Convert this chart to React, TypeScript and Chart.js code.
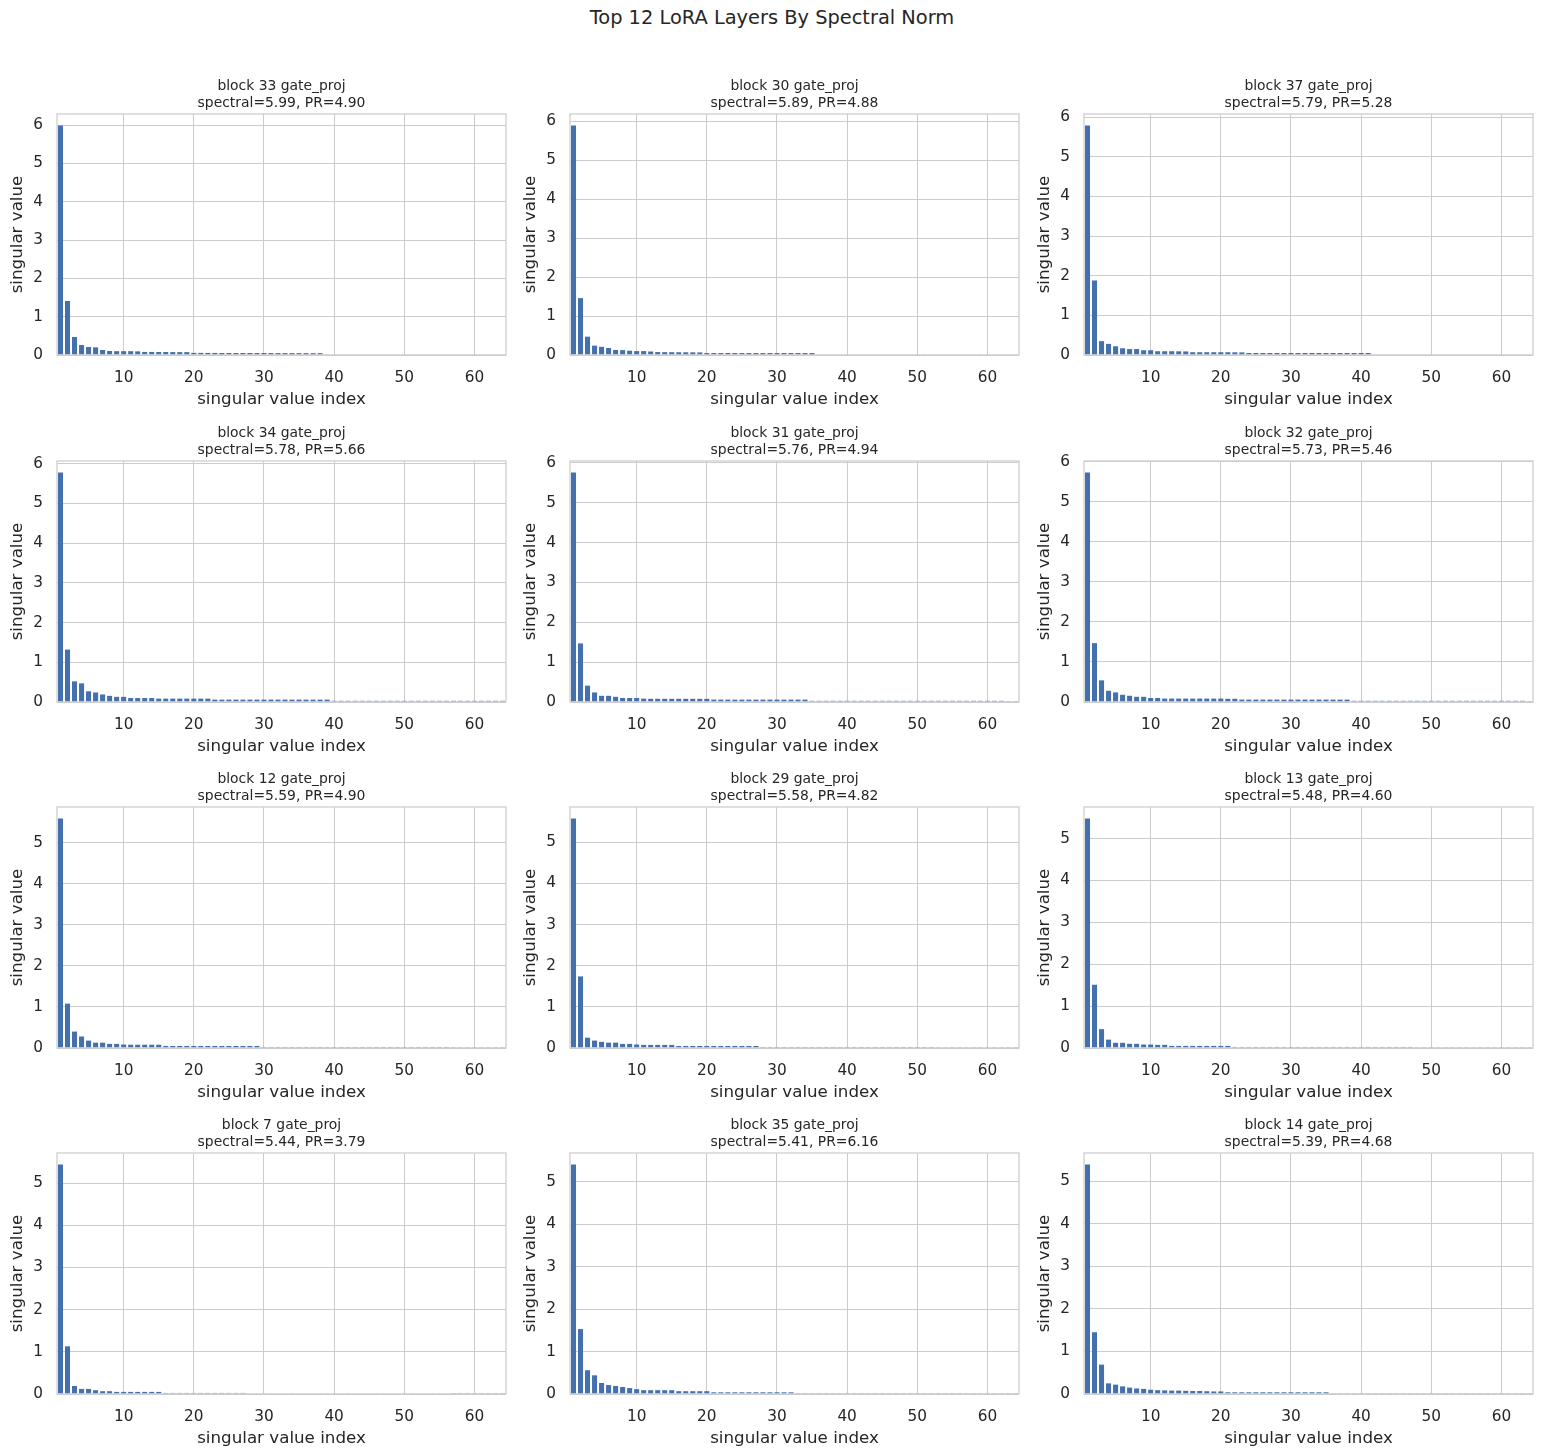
import React, { useEffect, useRef } from 'react';
import { Chart, registerables } from 'chart.js';

Chart.register(...registerables);

const figureTitle = 'Top 12 LoRA Layers By Spectral Norm';
const blockIds = [33, 30, 37, 34, 31, 32, 12, 29, 13, 7, 35, 14];
const spectralNorms = [5.99, 5.89, 5.79, 5.78, 5.76, 5.73, 5.59, 5.58, 5.48, 5.44, 5.41, 5.39];
const prValues = [4.90, 4.88, 5.28, 5.66, 4.94, 5.46, 4.90, 4.82, 4.60, 3.79, 6.16, 4.68];
const svIndex = Array.from({ length: 64 }, (_, i) => i + 1);

const svBlock33 = [
  5.99, 1.41, 0.47, 0.26, 0.21, 0.20, 0.13, 0.105, 0.10, 0.10,
  0.10, 0.095, 0.08, 0.08, 0.078, 0.078, 0.076, 0.075, 0.075, 0.055,
  0.055, 0.054, 0.054, 0.053, 0.053, 0.052, 0.052, 0.052, 0.051, 0.051,
  0.05, 0.05, 0.05, 0.05, 0.049, 0.049, 0.048, 0.048, 0.01, 0.01,
  0.01, 0.01, 0.01, 0.01, 0.01, 0.01, 0.01, 0.01, 0.01, 0.01,
  0.01, 0.01, 0.01, 0.01, 0.01, 0.01, 0.01, 0.01, 0.01, 0.01,
  0.01, 0.01, 0.01, 0.01,
];
const svBlock30 = [
  5.89, 1.46, 0.47, 0.24, 0.21, 0.18, 0.13, 0.125, 0.11, 0.10,
  0.10, 0.09, 0.075, 0.073, 0.072, 0.07, 0.07, 0.068, 0.066, 0.05,
  0.05, 0.05, 0.05, 0.05, 0.05, 0.05, 0.05, 0.05, 0.05, 0.05,
  0.05, 0.05, 0.05, 0.05, 0.05, 0.01, 0.01, 0.01, 0.01, 0.01,
  0.01, 0.01, 0.01, 0.01, 0.01, 0.01, 0.01, 0.01, 0.01, 0.01,
  0.01, 0.01, 0.01, 0.01, 0.01, 0.01, 0.01, 0.01, 0.01, 0.01,
  0.01, 0.01, 0.01, 0.01,
];
const svBlock37 = [
  5.79, 1.88, 0.35, 0.28, 0.22, 0.17, 0.15, 0.15, 0.12, 0.12,
  0.095, 0.095, 0.095, 0.093, 0.09, 0.07, 0.07, 0.07, 0.07, 0.07,
  0.07, 0.068, 0.066, 0.05, 0.05, 0.05, 0.05, 0.05, 0.05, 0.05,
  0.05, 0.05, 0.05, 0.05, 0.05, 0.05, 0.05, 0.05, 0.05, 0.05,
  0.05, 0.01, 0.01, 0.01, 0.01, 0.01, 0.01, 0.01, 0.01, 0.01,
  0.01, 0.01, 0.01, 0.01, 0.01, 0.01, 0.01, 0.01, 0.01, 0.01,
  0.01, 0.01, 0.01, 0.01,
];
const svBlock34 = [
  5.78, 1.32, 0.52, 0.47, 0.27, 0.24, 0.19, 0.155, 0.13, 0.13,
  0.10, 0.10, 0.10, 0.10, 0.085, 0.085, 0.085, 0.085, 0.085, 0.085,
  0.085, 0.085, 0.06, 0.06, 0.06, 0.06, 0.06, 0.06, 0.06, 0.06,
  0.06, 0.06, 0.06, 0.06, 0.06, 0.06, 0.06, 0.06, 0.06, 0.03,
  0.03, 0.03, 0.03, 0.03, 0.03, 0.03, 0.03, 0.03, 0.03, 0.03,
  0.03, 0.03, 0.03, 0.03, 0.03, 0.03, 0.03, 0.03, 0.03, 0.03,
  0.03, 0.03, 0.03, 0.03,
];
const svBlock31 = [
  5.76, 1.47, 0.41, 0.24, 0.155, 0.155, 0.13, 0.10, 0.10, 0.10,
  0.085, 0.08, 0.08, 0.08, 0.08, 0.08, 0.08, 0.08, 0.08, 0.08,
  0.06, 0.06, 0.06, 0.06, 0.06, 0.06, 0.06, 0.06, 0.06, 0.06,
  0.06, 0.06, 0.06, 0.06, 0.03, 0.03, 0.03, 0.03, 0.03, 0.03,
  0.03, 0.03, 0.03, 0.03, 0.03, 0.03, 0.03, 0.03, 0.03, 0.03,
  0.03, 0.03, 0.03, 0.03, 0.03, 0.03, 0.03, 0.03, 0.03, 0.03,
  0.03, 0.03, 0.005, 0.005,
];
const svBlock32 = [
  5.73, 1.47, 0.54, 0.28, 0.24, 0.18, 0.155, 0.13, 0.13, 0.10,
  0.10, 0.085, 0.085, 0.085, 0.085, 0.085, 0.085, 0.085, 0.085, 0.085,
  0.08, 0.08, 0.06, 0.06, 0.06, 0.06, 0.06, 0.06, 0.06, 0.06,
  0.06, 0.06, 0.06, 0.06, 0.06, 0.06, 0.06, 0.06, 0.03, 0.03,
  0.03, 0.03, 0.03, 0.03, 0.03, 0.03, 0.03, 0.03, 0.03, 0.03,
  0.03, 0.03, 0.03, 0.03, 0.03, 0.03, 0.03, 0.03, 0.03, 0.03,
  0.03, 0.03, 0.03, 0.005,
];
const svBlock12 = [
  5.59, 1.08, 0.40, 0.28, 0.18, 0.13, 0.13, 0.10, 0.10, 0.085,
  0.08, 0.08, 0.08, 0.08, 0.08, 0.05, 0.05, 0.05, 0.05, 0.05,
  0.05, 0.05, 0.05, 0.05, 0.05, 0.05, 0.05, 0.05, 0.05, 0.025,
  0.025, 0.025, 0.025, 0.025, 0.025, 0.025, 0.025, 0.025, 0.025, 0.025,
  0.025, 0.025, 0.025, 0.025, 0.025, 0.025, 0.025, 0.025, 0.025, 0.025,
  0.025, 0.025, 0.025, 0.025, 0.025, 0.025, 0.005, 0.005, 0.005, 0.005,
  0.005, 0.005, 0.005, 0.005,
];
const svBlock29 = [
  5.58, 1.74, 0.25, 0.18, 0.15, 0.13, 0.13, 0.10, 0.10, 0.085,
  0.075, 0.075, 0.075, 0.075, 0.075, 0.05, 0.05, 0.05, 0.05, 0.05,
  0.05, 0.05, 0.05, 0.05, 0.05, 0.05, 0.05, 0.025, 0.025, 0.025,
  0.025, 0.025, 0.025, 0.025, 0.025, 0.025, 0.025, 0.025, 0.025, 0.025,
  0.025, 0.025, 0.025, 0.025, 0.025, 0.025, 0.025, 0.025, 0.025, 0.025,
  0.025, 0.025, 0.005, 0.005, 0.005, 0.005, 0.005, 0.005, 0.005, 0.005,
  0.005, 0.005, 0.005, 0.005,
];
const svBlock13 = [
  5.48, 1.51, 0.45, 0.20, 0.124, 0.124, 0.10, 0.10, 0.083, 0.083,
  0.075, 0.075, 0.05, 0.05, 0.05, 0.05, 0.05, 0.05, 0.05, 0.05,
  0.05, 0.025, 0.025, 0.025, 0.025, 0.025, 0.025, 0.025, 0.025, 0.025,
  0.025, 0.025, 0.025, 0.025, 0.025, 0.025, 0.025, 0.025, 0.025, 0.025,
  0.025, 0.025, 0.025, 0.025, 0.025, 0.025, 0.025, 0.005, 0.005, 0.005,
  0.005, 0.005, 0.005, 0.005, 0.005, 0.005, 0.005, 0.005, 0.005, 0.005,
  0.005, 0.005, 0.005, 0.005,
];
const svBlock7 = [
  5.44, 1.13, 0.19, 0.12, 0.12, 0.09, 0.066, 0.066, 0.05, 0.05,
  0.05, 0.05, 0.05, 0.05, 0.05, 0.025, 0.025, 0.025, 0.025, 0.025,
  0.025, 0.025, 0.025, 0.025, 0.025, 0.025, 0.025, 0.008, 0.008, 0.008,
  0.008, 0.008, 0.008, 0.008, 0.008, 0.008, 0.008, 0.008, 0.008, 0.008,
  0.008, 0.008, 0.008, 0.008, 0.008, 0.008, 0.008, 0.008, 0.008, 0.008,
  0.008, 0.008, 0.008, 0.008, 0.008, 0.008, 0.003, 0.003, 0.003, 0.003,
  0.003, 0.003, 0.003, 0.003,
];
const svBlock35 = [
  5.41, 1.53, 0.56, 0.44, 0.26, 0.21, 0.19, 0.165, 0.14, 0.115,
  0.09, 0.09, 0.09, 0.09, 0.09, 0.066, 0.066, 0.066, 0.066, 0.066,
  0.04, 0.04, 0.04, 0.04, 0.04, 0.04, 0.04, 0.04, 0.04, 0.04,
  0.04, 0.04, 0.02, 0.02, 0.02, 0.02, 0.02, 0.02, 0.02, 0.02,
  0.02, 0.02, 0.02, 0.02, 0.02, 0.02, 0.02, 0.02, 0.02, 0.02,
  0.02, 0.02, 0.02, 0.02, 0.02, 0.02, 0.005, 0.005, 0.005, 0.005,
  0.005, 0.005, 0.005, 0.005,
];
const svBlock14 = [
  5.39, 1.45, 0.69, 0.25, 0.22, 0.18, 0.15, 0.13, 0.12, 0.10,
  0.09, 0.085, 0.08, 0.08, 0.075, 0.07, 0.07, 0.065, 0.06, 0.06,
  0.04, 0.04, 0.04, 0.04, 0.04, 0.04, 0.04, 0.04, 0.04, 0.04,
  0.04, 0.04, 0.04, 0.04, 0.04, 0.005, 0.005, 0.005, 0.005, 0.005,
  0.005, 0.005, 0.005, 0.005, 0.005, 0.005, 0.005, 0.005, 0.005, 0.005,
  0.005, 0.005, 0.005, 0.005, 0.005, 0.005, 0.005, 0.005, 0.005, 0.005,
  0.005, 0.005, 0.005, 0.005,
];

const singularValues = [
  svBlock33, svBlock30, svBlock37, svBlock34, svBlock31, svBlock32,
  svBlock12, svBlock29, svBlock13, svBlock7, svBlock35, svBlock14,
];

const TEXT = '#262626';
const GRID = '#cccccc';
const BAR = '#4470ad';
const FONT = 'DejaVu Sans';

const PLOT_W = 449;
const PLOT_H = 241;
const Y_AXIS_W = 57;
const TITLE_H = 50;
const X_AXIS_H = 55;
const colPlotLeft = [57, 570, 1084];
const rowPlotTop = [114, 461, 807, 1153];

const framePlugin = {
  id: 'frame',
  afterDraw(chart: any) {
    const { ctx, chartArea } = chart;
    const { left, top, right, bottom } = chartArea;
    ctx.save();
    ctx.strokeStyle = GRID;
    ctx.lineWidth = 1.25;
    ctx.strokeRect(left, top, right - left, bottom - top);
    ctx.restore();
  },
};

function Panel({ idx }: { idx: number }) {
  const ref = useRef<HTMLCanvasElement | null>(null);
  const col = idx % 3;
  const row = Math.floor(idx / 3);
  const left = colPlotLeft[col] - Y_AXIS_W;
  const top = rowPlotTop[row] - TITLE_H;
  const width = Y_AXIS_W + PLOT_W + Y_AXIS_W;
  const height = TITLE_H + PLOT_H + X_AXIS_H;

  useEffect(() => {
    if (!ref.current) return;
    const values = singularValues[idx];
    const ymax = Math.max(...values) * 1.05;
    const chart = new Chart(ref.current, {
      type: 'bar',
      data: {
        datasets: [
          {
            data: values.map((v, i) => ({ x: svIndex[i], y: v })),
            backgroundColor: BAR,
            borderWidth: 0,
            categoryPercentage: 1,
            barPercentage: 0.72,
            xAxisID: 'x',
            yAxisID: 'y',
          },
        ],
      },
      options: {
        responsive: false,
        animation: false,
        devicePixelRatio: 1,
        layout: { padding: 0 },
        plugins: {
          legend: { display: false },
          tooltip: { enabled: false },
          title: {
            display: true,
            text: [
              `block ${blockIds[idx]} gate_proj`,
              `spectral=${spectralNorms[idx].toFixed(2)}, PR=${prValues[idx].toFixed(2)}`,
            ],
            color: TEXT,
            font: { family: FONT, size: 13.9, weight: 'normal', lineHeight: 1.19 },
            padding: { top: 14.6, bottom: 2.3 },
          },
        },
        scales: {
          x: {
            type: 'linear',
            min: 0.5,
            max: 64.5,
            offset: false,
            grid: { color: GRID, lineWidth: 1, drawTicks: false, offset: false },
            border: { display: false },
            ticks: {
              stepSize: 10,
              includeBounds: false,
              autoSkip: false,
              maxRotation: 0,
              padding: 13.5,
              color: TEXT,
              font: { family: FONT, size: 15.3 },
            },
            title: {
              display: true,
              text: 'singular value index',
              color: TEXT,
              font: { family: FONT, size: 16.7 },
              padding: { top: 0, bottom: 0 },
            },
            afterFit: (s: any) => {
              s.height = X_AXIS_H;
            },
          },
          y: {
            type: 'linear',
            position: 'left',
            min: 0,
            max: ymax,
            grid: { color: GRID, lineWidth: 1, drawTicks: false },
            border: { display: false },
            ticks: {
              stepSize: 1,
              includeBounds: false,
              padding: 14,
              color: TEXT,
              font: { family: FONT, size: 15.3 },
            },
            title: {
              display: true,
              text: 'singular value',
              color: TEXT,
              font: { family: FONT, size: 16.7 },
              padding: { top: 8, bottom: 0 },
            },
            afterFit: (s: any) => {
              s.width = Y_AXIS_W;
            },
          },
          ySpacer: {
            type: 'linear',
            position: 'right',
            display: true,
            grid: { display: false, drawOnChartArea: false, drawTicks: false },
            border: { display: false },
            ticks: { display: false },
            title: { display: false },
            afterFit: (s: any) => {
              s.width = Y_AXIS_W;
            },
          },
        },
      } as any,
      plugins: [framePlugin],
    });
    return () => chart.destroy();
  }, [idx]);

  return (
    <canvas
      ref={ref}
      width={width}
      height={height}
      style={{ position: 'absolute', left, top, width, height }}
    />
  );
}

export default function App() {
  return (
    <div
      style={{
        position: 'absolute',
        left: 0,
        top: 0,
        width: 1544,
        height: 1456,
        background: '#ffffff',
        overflow: 'hidden',
      }}
    >
      <div
        style={{
          position: 'absolute',
          left: 0,
          top: 0,
          width: 1544,
          height: 36,
          lineHeight: '36px',
          textAlign: 'center',
          fontFamily: FONT,
          fontSize: 19.4,
          color: TEXT,
        }}
      >
        {figureTitle}
      </div>
      {blockIds.map((_, i) => (
        <Panel key={i} idx={i} />
      ))}
    </div>
  );
}
